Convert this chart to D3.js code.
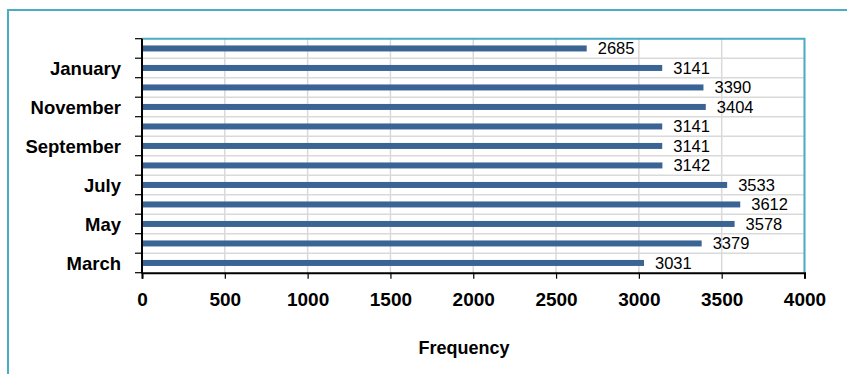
<!DOCTYPE html>
<html>
<head>
<meta charset="utf-8">
<script src="https://cdn.jsdelivr.net/npm/d3@7"></script>
<style>
  html, body { margin: 0; padding: 0; background: #fff; }
  svg { display: block; }
  text { font-family: "Liberation Sans", Arial, sans-serif; fill: #000; }
</style>
</head>
<body>
<svg id="chart" width="847" height="374"></svg>
<script>
// Monthly frequencies, listed from the top bar down
const months = ["February", "January", "December", "November", "October", "September",
                "August", "July", "June", "May", "April", "March"];
const frequencies = [2685, 3141, 3390, 3404, 3141, 3141, 3142, 3533, 3612, 3578, 3379, 3031];
// Only every other month carries an axis label
const labelledMonths = ["January", "November", "September", "July", "May", "March"];
const xTicks = [0, 500, 1000, 1500, 2000, 2500, 3000, 3500, 4000];
const xTitle = "Frequency";

const svg = d3.select("#chart");
const teal = "#4bacc6";
const barColor = "#3a6494";
const gridColor = "#d9d9d9";

const plot = { left: 142, right: 804.5, top: 38.7, bottom: 272.7 };

const x = d3.scaleLinear().domain([0, 4000]).range([plot.left, plot.right]);
const y = d3.scaleBand().domain(months).range([plot.top, plot.bottom]).paddingInner(0).paddingOuter(0);
const barH = 6;

// Outer frame (runs off the right and bottom edges)
svg.append("rect")
  .attr("x", 8).attr("y", 10)
  .attr("width", 900).attr("height", 400)
  .attr("fill", "none").attr("stroke", teal).attr("stroke-width", 2);

// Gridlines
const grid = svg.append("g");
grid.selectAll("line.v").data(xTicks.slice(1)).join("line")
  .attr("x1", d => x(d)).attr("x2", d => x(d))
  .attr("y1", plot.top).attr("y2", plot.bottom)
  .attr("stroke", gridColor).attr("stroke-width", 1.5);
const boundaries = months.map(m => y(m) + y.bandwidth());
grid.selectAll("line.h").data(boundaries.slice(0, -1)).join("line")
  .attr("x1", plot.left).attr("x2", plot.right)
  .attr("y1", d => d).attr("y2", d => d)
  .attr("stroke", gridColor).attr("stroke-width", 1.5);

// Plot-area border: top and right edges
svg.append("path")
  .attr("d", `M${plot.left},${plot.top}H${plot.right}V${plot.bottom}`)
  .attr("fill", "none").attr("stroke", teal).attr("stroke-width", 2);

// Bars
svg.append("g").selectAll("rect").data(months).join("rect")
  .attr("x", x(0))
  .attr("y", (d) => y(d) + y.bandwidth() / 2 - barH / 2)
  .attr("width", (d, i) => x(frequencies[i]) - x(0))
  .attr("height", barH)
  .attr("fill", barColor);

// Value labels
svg.append("g").selectAll("text").data(months).join("text")
  .attr("x", (d, i) => x(frequencies[i]) + 11)
  .attr("y", (d) => y(d) + y.bandwidth() / 2 + 1.5)
  .attr("dominant-baseline", "middle")
  .style("font-size", "16.5px")
  .text((d, i) => frequencies[i]);

// X axis
const xAxis = svg.append("g")
  .attr("transform", `translate(0,${plot.bottom})`)
  .call(d3.axisBottom(x).tickValues(xTicks).tickSize(6).tickPadding(14).tickFormat(d3.format("d")));
xAxis.select(".domain").attr("stroke", "#000").attr("stroke-width", 2);
xAxis.selectAll(".tick line").attr("stroke", "#000").attr("stroke-width", 1.2);
xAxis.selectAll(".tick text")
  .style("font-size", "19px").style("font-weight", "bold")
  .attr("fill", "#000");

// Y axis: ticks on band edges, labels on alternate months
const yAxis = svg.append("g")
  .attr("transform", `translate(${plot.left},0)`)
  .call(d3.axisLeft(y).tickSize(0).tickPadding(21)
    .tickFormat(d => labelledMonths.includes(d) ? d : ""));
yAxis.select(".domain").remove();
yAxis.selectAll(".tick text")
  .style("font-size", "18.5px").style("font-weight", "bold")
  .attr("fill", "#000").attr("dy", "0.4em");
svg.append("g").selectAll("line").data([plot.top, ...boundaries]).join("line")
  .attr("x1", plot.left - 7).attr("x2", plot.left)
  .attr("y1", d => d).attr("y2", d => d)
  .attr("stroke", "#000").attr("stroke-width", 1.2);
svg.append("line")
  .attr("x1", plot.left).attr("x2", plot.left)
  .attr("y1", plot.top).attr("y2", plot.bottom + 1)
  .attr("stroke", "#000").attr("stroke-width", 2);

// Axis title
svg.append("text")
  .attr("x", 464).attr("y", 354)
  .attr("text-anchor", "middle")
  .style("font-size", "18px").style("font-weight", "bold")
  .text(xTitle);
</script>
</body>
</html>
